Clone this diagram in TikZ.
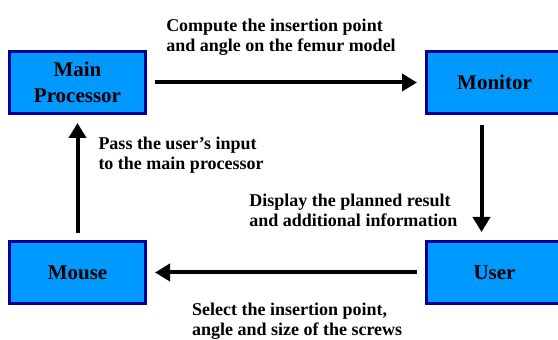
\documentclass[tikz,border=0pt]{standalone}
\usepackage{fontspec}
\setmainfont{Liberation Serif}
\usepackage{xcolor}
\usetikzlibrary{shapes,arrows.meta,positioning}
\definecolor{boxblue}{RGB}{0,153,255}
\definecolor{boxedge}{RGB}{0,0,150}
\tikzstyle{block} = [rectangle, draw=boxedge, line width=3pt, fill=boxblue,
    align=center, minimum width=136pt, minimum height=62pt,
    font=\bfseries\fontsize{21}{26}\selectfont]
\tikzstyle{line} = [draw, line width=4pt, -{Triangle[length=15pt,width=17pt]}]
\tikzstyle{note} = [align=left, inner sep=0pt,
    font=\bfseries\fontsize{18}{20}\selectfont]

\begin{document}
\begin{tikzpicture}
    \useasboundingbox (0,0) rectangle (558pt,340pt);
    % Nodes
    \node [block] (main) at (77.5pt,257.5pt) {Main\\Processor};
    \node [block, right=278pt of main] (monitor) {Monitor};
    \node [block, below=125pt of main] (mouse) {Mouse};
    \node [block, right=278pt of mouse] (user) {User};

    % Edges
    \path [line, shorten <=8pt, shorten >=8pt] (main.east) --
        node [note, midway, anchor=south, xshift=-5pt, yshift=25pt]
        {Compute the insertion point\\and angle on the femur model} (monitor.west);
    \path [line, shorten <=10pt, shorten >=8pt] ([xshift=-13pt]monitor.south) --
        node [note, pos=0.76, anchor=east, xshift=-22pt]
        {Display the planned result\\and additional information} ([xshift=-13pt]user.north);
    \path [line, shorten <=8pt, shorten >=8pt] (user.west) --
        node [note, pos=0.46, anchor=north, yshift=-29pt]
        {Select the insertion point,\\angle and size of the screws} (mouse.east);
    \path [line, shorten <=7pt, shorten >=8pt] (mouse.north) --
        node [note, pos=0.68, anchor=west, xshift=19pt]
        {Pass the user’s input\\to the main processor} (main.south);
\end{tikzpicture}
\end{document}
